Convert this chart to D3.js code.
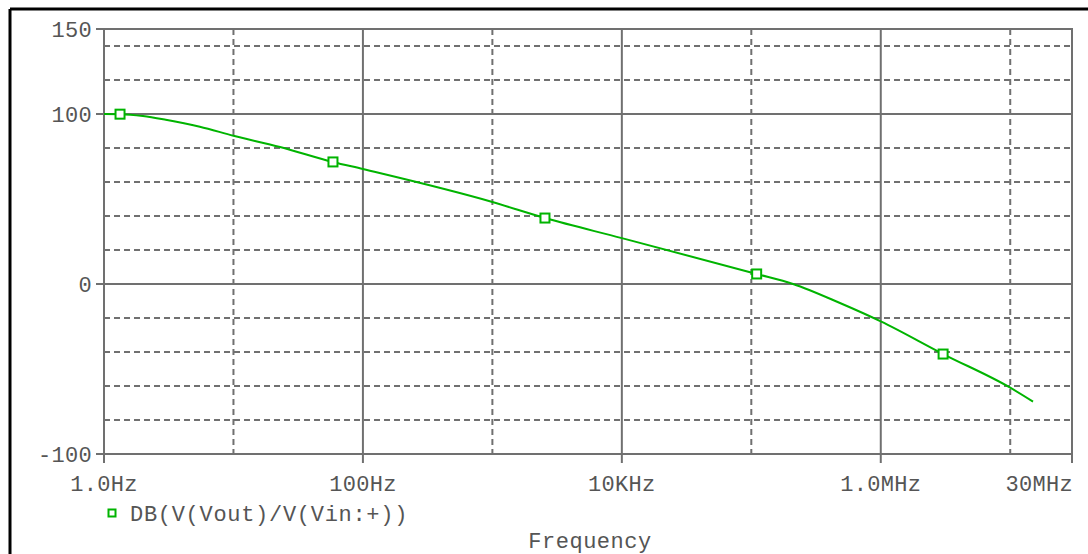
<!DOCTYPE html>
<html>
<head>
<meta charset="utf-8">
<script src="https://cdn.jsdelivr.net/npm/d3@7"></script>
<style>
  html, body { margin: 0; padding: 0; background: #fff; overflow: hidden; }
  text { font-family: "Liberation Mono", "DejaVu Sans Mono", monospace; }
</style>
</head>
<body>
<div id="chart"></div>
<script>
// frequency response
const freqs = [1, 1.33, 2, 3, 5.5, 10, 22.9, 58.7, 100, 1000, 2548, 10000, 110000, 210000, 484000, 1e6, 3.03e6, 1e7, 1.5e7];
const gainDb = [100, 99.9, 98.8, 96.6, 92.5, 87.2, 80.6, 71.8, 67.6, 48.2, 38.8, 27, 5.9, 0, -11.2, -22, -41.2, -61, -69.2];
const markerFreqs = [1.33, 58.7, 2548, 110000, 3.03e6];

const yTicks = [150, 100, 0, -100];
const yDashed = [140, 120, 80, 60, 40, 20, -20, -40, -60, -80];
const ySolid = [100, 0];
const xTicks = [1, 100, 1e4, 1e6, 3e7];
const xTickLabels = ["1.0Hz", "100Hz", "10KHz", "1.0MHz", "30MHz"];
const xDashed = [10, 1000, 1e5, 1e7];
const xSolid = [100, 1e4, 1e6];
const seriesName = "DB(V(Vout)/V(Vin:+))";

const W = 1088, H = 554;
const gridCol = "#707070", green = "#00b400", txtCol = "#555";

const svg = d3.select("#chart").append("svg")
    .attr("width", W)
    .attr("height", H);

const x = d3.scaleLog().domain([1, 3e7]).range([104, 1072]);
const y = d3.scaleLinear().domain([-100, 150]).range([454, 29]);

// outer black frame (top + left only visible)
svg.append("line").attr("x1", 10).attr("x2", W).attr("y1", 9).attr("y2", 9)
    .attr("stroke", "#000").attr("stroke-width", 3);
svg.append("line").attr("x1", 10).attr("x2", 10).attr("y1", 9).attr("y2", H)
    .attr("stroke", "#000").attr("stroke-width", 3);

const grid = svg.append("g");

// dashed grid
yDashed.forEach(v => {
    grid.append("line")
        .attr("x1", x(1)).attr("x2", x(3e7))
        .attr("y1", y(v)).attr("y2", y(v))
        .attr("stroke", gridCol).attr("stroke-width", 2)
        .attr("stroke-dasharray", "6,4");
});
xDashed.forEach(f => {
    grid.append("line")
        .attr("x1", x(f)).attr("x2", x(f))
        .attr("y1", y(150)).attr("y2", y(-100))
        .attr("stroke", gridCol).attr("stroke-width", 2)
        .attr("stroke-dasharray", "6,4");
});

// solid grid
ySolid.forEach(v => {
    grid.append("line")
        .attr("x1", x(1)).attr("x2", x(3e7))
        .attr("y1", y(v)).attr("y2", y(v))
        .attr("stroke", gridCol).attr("stroke-width", 2);
});
xSolid.forEach(f => {
    grid.append("line")
        .attr("x1", x(f)).attr("x2", x(f))
        .attr("y1", y(150)).attr("y2", y(-100))
        .attr("stroke", gridCol).attr("stroke-width", 2);
});

// plot frame
grid.append("rect")
    .attr("x", x(1)).attr("y", y(150))
    .attr("width", x(3e7) - x(1)).attr("height", y(-100) - y(150))
    .attr("fill", "none").attr("stroke", gridCol).attr("stroke-width", 2);

// y ticks + labels
yTicks.forEach(v => {
    grid.append("line")
        .attr("x1", x(1) - 8).attr("x2", x(1))
        .attr("y1", y(v)).attr("y2", y(v))
        .attr("stroke", gridCol).attr("stroke-width", 2);
    svg.append("text")
        .attr("x", x(1) - 12).attr("y", y(v))
        .attr("dy", "0.35em")
        .attr("text-anchor", "end")
        .attr("fill", txtCol)
        .attr("font-size", "22px")
        .attr("letter-spacing", "0.3px")
        .text(v);
});

// x ticks + labels
xTicks.forEach((f, i) => {
    grid.append("line")
        .attr("x1", x(f)).attr("x2", x(f))
        .attr("y1", y(-100)).attr("y2", y(-100) + 9)
        .attr("stroke", gridCol).attr("stroke-width", 2);
    const last = i === xTicks.length - 1;
    svg.append("text")
        .attr("x", last ? x(f) + 1 : x(f))
        .attr("y", 491)
        .attr("text-anchor", last ? "end" : "middle")
        .attr("fill", txtCol)
        .attr("font-size", "22px")
        .attr("letter-spacing", "0.3px")
        .text(xTickLabels[i]);
});

// curve
const line = d3.line()
    .x((d, i) => x(freqs[i]))
    .y(d => y(d))
    .curve(d3.curveMonotoneX);

svg.append("path")
    .datum(gainDb)
    .attr("d", line)
    .attr("fill", "none")
    .attr("stroke", green)
    .attr("stroke-width", 2);

// markers on the curve
const gainAt = f => gainDb[freqs.indexOf(f)];
svg.selectAll(".mk")
    .data(markerFreqs)
    .enter()
    .append("rect")
    .attr("x", f => x(f) - 4.5)
    .attr("y", f => y(gainAt(f)) - 4.5)
    .attr("width", 9).attr("height", 9)
    .attr("fill", "#fff")
    .attr("stroke", green)
    .attr("stroke-width", 2);

// legend
svg.append("rect")
    .attr("x", 108.5).attr("y", 509.5)
    .attr("width", 7).attr("height", 7)
    .attr("fill", "#fff")
    .attr("stroke", green)
    .attr("stroke-width", 2);
svg.append("text")
    .attr("x", 130).attr("y", 513)
    .attr("dy", "0.35em")
    .attr("fill", txtCol)
    .attr("font-size", "22px")
    .attr("letter-spacing", "0.7px")
    .text(seriesName);

// axis title (sits at the bottom edge, as in the original)
svg.append("text")
    .attr("x", 590).attr("y", 548)
    .attr("text-anchor", "middle")
    .attr("fill", txtCol)
    .attr("font-size", "22px")
    .attr("letter-spacing", "0.5px")
    .text("Frequency");
</script>
</body>
</html>
